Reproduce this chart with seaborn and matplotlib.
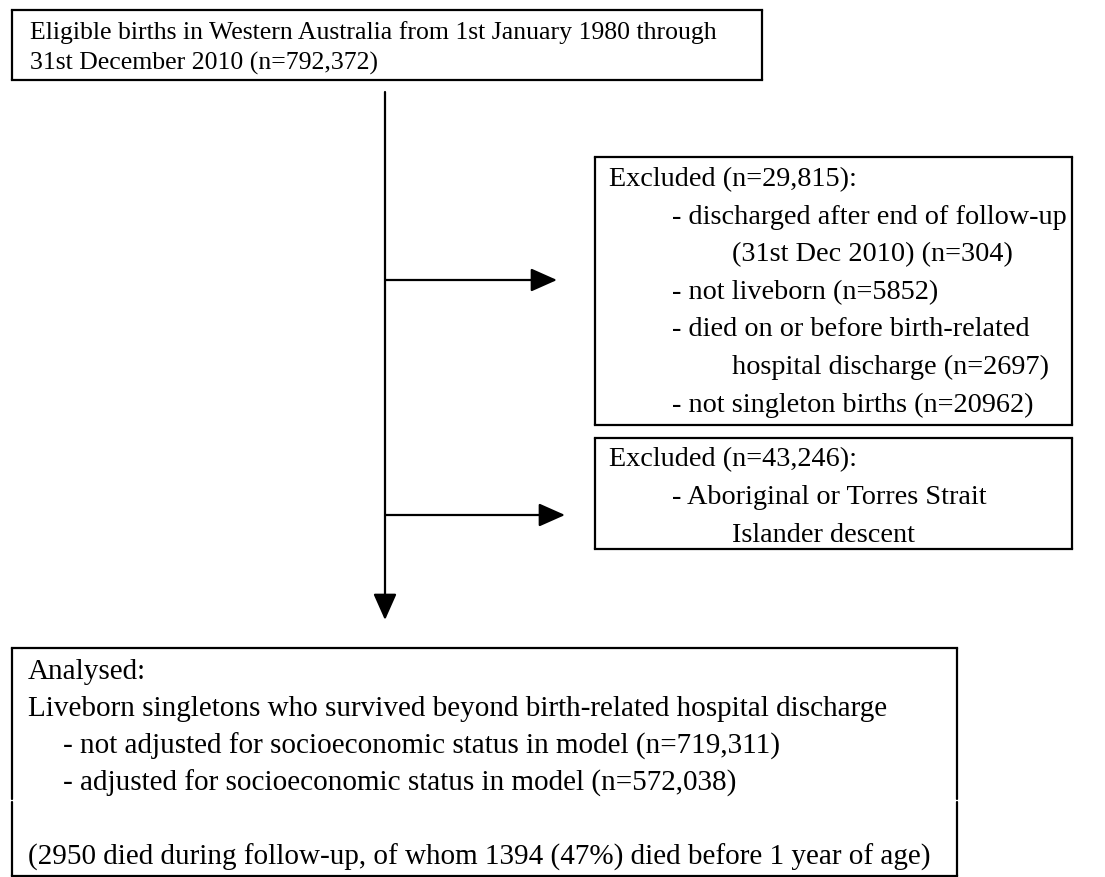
import matplotlib
matplotlib.use("Agg")
import matplotlib.pyplot as plt
import seaborn as sns

# text of each box (line, indent level)
eligible_lines = ["Eligible births in Western Australia from 1st January 1980 through",
                  "31st December 2010 (n=792,372)"]
excluded1_lines = ["Excluded (n=29,815):",
                   "- discharged after end of follow-up",
                   "(31st Dec 2010) (n=304)",
                   "- not liveborn (n=5852)",
                   "- died on or before birth-related",
                   "hospital discharge (n=2697)",
                   "- not singleton births (n=20962)"]
excluded1_indent = [0, 1, 2, 1, 1, 2, 1]
excluded2_lines = ["Excluded (n=43,246):",
                   "- Aboriginal or Torres Strait",
                   "Islander descent"]
excluded2_indent = [0, 1, 2]
analysed_lines = ["Analysed:",
                  "Liveborn singletons who survived beyond birth-related hospital discharge",
                  "- not adjusted for socioeconomic status in model (n=719,311)",
                  "- adjusted for socioeconomic status in model (n=572,038)",
                  "",
                  "(2950 died during follow-up, of whom 1394 (47%) died before 1 year of age)"]
analysed_indent = [0, 0, 1, 1, 0, 0]

sns.set_theme(style="white")
plt.rcParams['font.family'] = ['Liberation Serif', 'DejaVu Serif']

W, H = 1105, 877
fig = plt.figure(figsize=(W / 100, H / 100), dpi=100)
ax = fig.add_axes([0, 0, 1, 1])
ax.set_xlim(0, W)
ax.set_ylim(H, 0)
ax.axis('off')

LW = 1.6


def box(x0, y0, x1, y1, gap=None):
    ax.plot([x0, x1], [y0, y0], color='black', lw=LW, solid_capstyle='projecting')
    ax.plot([x0, x1], [y1, y1], color='black', lw=LW, solid_capstyle='projecting')
    for x in (x0, x1):
        if gap is None:
            ax.plot([x, x], [y0, y1], color='black', lw=LW)
        else:
            ax.plot([x, x], [y0, gap - 1.5], color='black', lw=LW)
            ax.plot([x, x], [gap + 1.5, y1], color='black', lw=LW)


def lines(texts, indents, xs, y0, dy, fs):
    for i, (t, k) in enumerate(zip(texts, indents)):
        ax.text(xs[k], y0 + i * dy, t, fontsize=fs, va='center', ha='left', color='black')


def arrow(x0, y0, x1, y1):
    ax.annotate('', xy=(x1, y1), xytext=(x0, y0),
                arrowprops=dict(arrowstyle='-|>,head_length=0.9,head_width=0.4',
                                lw=LW, color='black', shrinkA=0, shrinkB=0,
                                mutation_scale=18))


# box 1
box(12, 10, 762, 80)
lines(eligible_lines, [0, 0], [30], 33, 30, 18.5)

# main vertical arrow
arrow(385, 92, 385, 620)

# exclusion 1
arrow(386, 280, 557, 280)
box(595, 157, 1072, 425)
lines(excluded1_lines, excluded1_indent, [609, 672, 732], 180, 37.5, 20.3)

# exclusion 2
arrow(386, 515, 565, 515)
box(595, 438, 1072, 549)
lines(excluded2_lines, excluded2_indent, [609, 672, 732], 460, 37.5, 20.3)

# analysed
box(12, 648, 957, 876, gap=800)
lines(analysed_lines, analysed_indent, [28, 63], 672, 37, 21)

fig.savefig("out.png", dpi=100, facecolor='white')
